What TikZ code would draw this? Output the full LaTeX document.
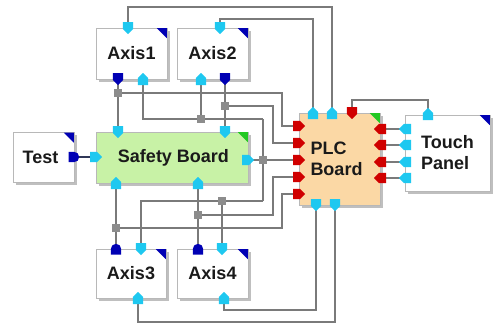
\documentclass[tikz,border=0pt]{standalone}
\usepackage{fontspec}
\setmainfont{Liberation Sans}
\usetikzlibrary{shadows,calc}
\definecolor{cyanp}{HTML}{1EC8F0}
\definecolor{dkb}{HTML}{0000B4}
\definecolor{redp}{HTML}{D00000}
\definecolor{wiregray}{HTML}{7A7A7A}
\definecolor{jgray}{HTML}{8C8C8C}
\definecolor{boxgray}{HTML}{B8B8B8}
\definecolor{sbfill}{HTML}{C8F2A6}
\definecolor{plcfill}{HTML}{FBD8A5}
\definecolor{cgreen}{HTML}{22C822}
\definecolor{txt}{HTML}{1A1A1A}
\definecolor{testwire}{HTML}{303858}
\newcommand\hport[3]{\fill[#1,shift={(#2)},rotate=#3] (-6pt,-5.2pt) -- (1pt,-5.2pt) -- (6pt,0pt) -- (1pt,5.2pt) -- (-6pt,5.2pt) -- cycle;}
\newcommand\dport[3]{\fill[#1,shift={(#2)},rotate=#3] (-5.5pt,-5.2pt) -- (0pt,-5.2pt) arc (-90:90:5.2pt) -- (-5.5pt,5.2pt) -- cycle;}
\newcommand\corner[2]{\fill[#2] ($(#1.north east)+(-10.5pt,-0.6pt)$) -- ($(#1.north east)+(-0.6pt,-0.6pt)$) -- ($(#1.north east)+(-0.6pt,-10.5pt)$) -- cycle;}
\tikzset{
  blk/.style={draw=boxgray, line width=0.8pt, fill=white, inner sep=0pt,
    font=\bfseries\fontsize{18}{21}\selectfont, text=txt,
    drop shadow={shadow xshift=2.5pt, shadow yshift=-2.5pt, fill=black!25, opacity=1}},
  wire/.style={draw=wiregray, line width=1.4pt},
  jn/.style={fill=jgray, minimum size=7.5pt, inner sep=0pt, draw=none}
}
\begin{document}
\begin{tikzpicture}[x=1pt,y=-1pt]
\useasboundingbox (0,0) rectangle (493,324);
\fill[white] (0,0) rectangle (493,324);
% boxes
\node[blk, minimum width=71pt, minimum height=51pt] (a1) at (131.5,53.5) {Axis1};
\node[blk, minimum width=71pt, minimum height=51pt] (a2) at (212.5,53.5) {Axis2};
\node[blk, minimum width=61pt, minimum height=50pt, align=left] (test) at (43.5,157.5) {Test\hspace*{6pt}};
\node[blk, fill=sbfill, minimum width=152pt, minimum height=51pt] (sb) at (172,157.5) {\hspace*{3pt}Safety Board};
\node[blk, minimum width=70pt, minimum height=49pt] (a3) at (131,273.5) {Axis3};
\node[blk, minimum width=71pt, minimum height=49pt] (a4) at (212.5,273.5) {Axis4};
\node[blk, fill=plcfill, minimum width=81pt, minimum height=92pt, align=left] (plc) at (339.5,159) {PLC\\Board\hspace*{6pt}};
\node[blk, minimum width=85pt, minimum height=76pt, align=left] (tp) at (447.5,153) {Touch\\Panel};
\corner{a1}{dkb}\corner{a2}{dkb}\corner{test}{dkb}\corner{a3}{dkb}\corner{a4}{dkb}\corner{tp}{dkb}
\corner{sb}{cgreen}\corner{plc}{cgreen}
% port coordinates
\coordinate (a1T) at (128,28);
\coordinate (a1O) at (118,79);
\coordinate (a1I) at (143,79);
\coordinate (a2T) at (220,28);
\coordinate (a2I) at (201,79);
\coordinate (a2O) at (225,79);
\coordinate (tO) at (74,157);
\coordinate (sbL) at (96,157);
\coordinate (sbT1) at (118,132);
\coordinate (sbT2) at (225,132);
\coordinate (sbR) at (248,160);
\coordinate (sbB1) at (116,183);
\coordinate (sbB2) at (198,183);
\coordinate (a3O) at (116,249);
\coordinate (a3I) at (141,249);
\coordinate (a3B) at (138,298);
\coordinate (a4O) at (198,249);
\coordinate (a4I) at (222,249);
\coordinate (a4B) at (224,298);
\coordinate (plcT1) at (313,113);
\coordinate (plcT2) at (332,113);
\coordinate (plcT3) at (352,113);
\coordinate (plcL1) at (299,126);
\coordinate (plcL2) at (299,143);
\coordinate (plcL3) at (299,160);
\coordinate (plcL4) at (299,177);
\coordinate (plcL5) at (299,194);
\coordinate (plcR1) at (380,129);
\coordinate (plcR2) at (380,145);
\coordinate (plcR3) at (380,162);
\coordinate (plcR4) at (380,178);
\coordinate (plcB1) at (316,205);
\coordinate (plcB2) at (335,205);
\coordinate (tpL1) at (405,129);
\coordinate (tpL2) at (405,145);
\coordinate (tpL3) at (405,162);
\coordinate (tpL4) at (405,178);
\coordinate (tpT) at (428,114);
% bends
\coordinate (b1) at (282,126);
\coordinate (b2) at (273,143);
\coordinate (b3) at (273,177);
\coordinate (b4) at (282,194);
\coordinate (c1) at (263,119);
\coordinate (c2) at (263,201);
% junctions
\node[jn] (j1) at (118,93) {};
\node[jn] (j2) at (225,106) {};
\node[jn] (j3) at (201,119) {};
\node[jn] (j4) at (263,160) {};
\node[jn] (j5) at (222,201) {};
\node[jn] (j6) at (198,215) {};
\node[jn] (j7) at (116,228) {};
% wires
\draw[testwire, line width=1.4pt] (tO) -- (sbL);
\draw[wire] (plcT2) -- ++(0,-106) -| (a1T);
\draw[wire] (plcT1) -- ++(0,-94) -| (a2T);
\draw[wire] (plcT3) -- ++(0,-13) -| (tpT);
\draw[wire] (plcR1) -- (tpL1);
\draw[wire] (plcR2) -- (tpL2);
\draw[wire] (plcR3) -- (tpL3);
\draw[wire] (plcR4) -- (tpL4);
\draw[wire] (plcB1) -- ++(0,105) -| (a4B);
\draw[wire] (plcB2) -- ++(0,117) -| (a3B);
\draw[wire] (a1O) -- (j1) -- (sbT1);
\draw[wire] (j1) -| (b1) -- (plcL1);
\draw[wire] (a2O) -- (j2) -- (sbT2);
\draw[wire] (j2) -| (b2) -- (plcL2);
\draw[wire] (sbR) -- (j4) -- (plcL3);
\draw[wire] (c1) -- (j4) -- (c2);
\draw[wire] (c1) -- (j3) -| (a1I);
\draw[wire] (j3) -- (a2I);
\draw[wire] (c2) -- (j5) -| (a3I);
\draw[wire] (j5) -- (a4I);
\draw[wire] (a3O) -- (j7) -- (sbB1);
\draw[wire] (j7) -| (b4) -- (plcL5);
\draw[wire] (a4O) -- (j6) -- (sbB2);
\draw[wire] (j6) -| (b3) -- (plcL4);
% junction squares on top
\foreach \j in {j1,j2,j3,j4,j5,j6,j7}{\fill[jgray] ($(\j)+(-3.75pt,-3.75pt)$) rectangle ($(\j)+(3.75pt,3.75pt)$);}
% ports
\hport{cyanp}{a1T}{-90}
\hport{dkb}{a1O}{-90}
\hport{cyanp}{a1I}{90}
\hport{cyanp}{a2T}{-90}
\hport{cyanp}{a2I}{90}
\hport{dkb}{a2O}{-90}
\dport{dkb}{tO}{0}
\hport{cyanp}{sbL}{0}
\hport{cyanp}{sbT1}{-90}
\hport{cyanp}{sbT2}{-90}
\hport{cyanp}{sbR}{0}
\hport{cyanp}{sbB1}{90}
\hport{cyanp}{sbB2}{90}
\dport{dkb}{a3O}{90}
\hport{cyanp}{a3I}{-90}
\hport{cyanp}{a3B}{90}
\dport{dkb}{a4O}{90}
\hport{cyanp}{a4I}{-90}
\hport{cyanp}{a4B}{90}
\hport{cyanp}{plcT1}{90}
\hport{cyanp}{plcT2}{90}
\hport{redp}{plcT3}{-90}
\foreach \p in {plcL1,plcL2,plcL3,plcL4,plcL5}{\hport{redp}{\p}{0}}
\foreach \p in {plcR1,plcR2,plcR3,plcR4}{\hport{redp}{\p}{180}}
\hport{cyanp}{plcB1}{-90}
\hport{cyanp}{plcB2}{-90}
\foreach \p in {tpL1,tpL2,tpL3,tpL4}{\hport{cyanp}{\p}{180}}
\hport{cyanp}{tpT}{90}
\end{tikzpicture}
\end{document}
